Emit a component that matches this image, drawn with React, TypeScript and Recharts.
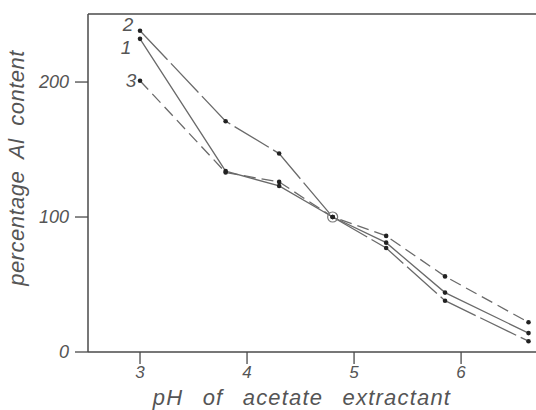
import React from 'react';
import { LineChart, Line, XAxis, YAxis, ReferenceLine } from 'recharts';

const PH = [3.0, 3.8, 4.3, 4.8, 5.3, 5.85, 6.63];
const SERIES_1 = [232, 134, 123, 100, 81, 44, 14];
const SERIES_2 = [238, 171, 147, 100, 77, 38, 8];
const SERIES_3 = [201, 133, 126, 100, 86, 56, 22];
const X_TICKS = [3, 4, 5, 6];
const Y_TICKS = [0, 100, 200];
const X_DOMAIN = [2.514, 6.7];
const Y_MAX = 250.4;

const data = PH.map((ph, i) => ({ ph, s1: SERIES_1[i], s2: SERIES_2[i], s3: SERIES_3[i] }));

const INK = '#4a4a4a';
const LINE = '#6a6a6a';
const FONT = '"Liberation Sans", "DejaVu Sans", sans-serif';

const textStyle = { fontFamily: FONT, fontStyle: 'italic' as const, fill: '#555' };

const smallDot = (common: boolean) => (props: any) => {
  const { cx, cy, index } = props;
  return (
    <g key={`d-${index}`}>
      {common && index === 3 && <circle cx={cx} cy={cy} r={5} fill="none" stroke="#777" strokeWidth={1.2} />}
      <circle cx={cx} cy={cy} r={2.3} fill="#222" />
    </g>
  );
};

const seriesLabel = (name: string, dx: number, dy: number) => (props: any) => {
  const { x, y, index } = props;
  if (index !== 0) return null;
  return (
    <text key="lbl" x={x + dx} y={y + dy} fontSize={19} textAnchor="middle" {...textStyle}>
      {name}
    </text>
  );
};

const App: React.FC = () => {
  return (
    <div style={{ position: 'absolute', left: 0, top: 0, background: '#fff' }}>
      <LineChart width={536} height={410} data={data} margin={{ top: 14, right: 0, bottom: 0, left: 0 }}>
        <XAxis
          dataKey="ph"
          type="number"
          domain={X_DOMAIN}
          ticks={X_TICKS}
          allowDataOverflow
          height={58}
          tickSize={12}
          axisLine={{ stroke: INK, strokeWidth: 1.5 }}
          tickLine={{ stroke: INK, strokeWidth: 1.3 }}
          tick={{ fontSize: 17, ...textStyle }}
          tickMargin={2}
          label={{
            value: 'pH  of  acetate  extractant',
            position: 'insideBottom',
            offset: 5,
            dx: -10,
            style: { fontSize: 22, ...textStyle, wordSpacing: 12, letterSpacing: 1.2 },
          }}
        />
        <YAxis
          type="number"
          domain={[0, Y_MAX]}
          ticks={Y_TICKS}
          allowDataOverflow
          width={88}
          tickSize={13}
          axisLine={{ stroke: INK, strokeWidth: 1.5 }}
          tickLine={{ stroke: INK, strokeWidth: 1.3 }}
          tick={{ fontSize: 18, ...textStyle }}
          tickMargin={6}
          label={{
            value: 'percentage  Al  content',
            angle: -90,
            position: 'insideLeft',
            offset: 16,
            dy: -15,
            style: { fontSize: 22, ...textStyle, textAnchor: 'middle', wordSpacing: 6, letterSpacing: 0.5 },
          }}
        />
        <ReferenceLine y={Y_MAX} stroke={INK} strokeWidth={1.5} />
        <Line
          dataKey="s3"
          stroke={LINE}
          strokeWidth={1.3}
          strokeDasharray="12 6"
          dot={smallDot(false)}
          label={seriesLabel('3', -9, 6)}
          isAnimationActive={false}
        />
        <Line
          dataKey="s2"
          stroke={LINE}
          strokeWidth={1.3}
          strokeDasharray="40 5"
          dot={smallDot(false)}
          label={seriesLabel('2', -12, 0)}
          isAnimationActive={false}
        />
        <Line
          dataKey="s1"
          stroke={LINE}
          strokeWidth={1.3}
          dot={smallDot(true)}
          label={seriesLabel('1', -14, 15)}
          isAnimationActive={false}
        />
      </LineChart>
    </div>
  );
};

export default App;
